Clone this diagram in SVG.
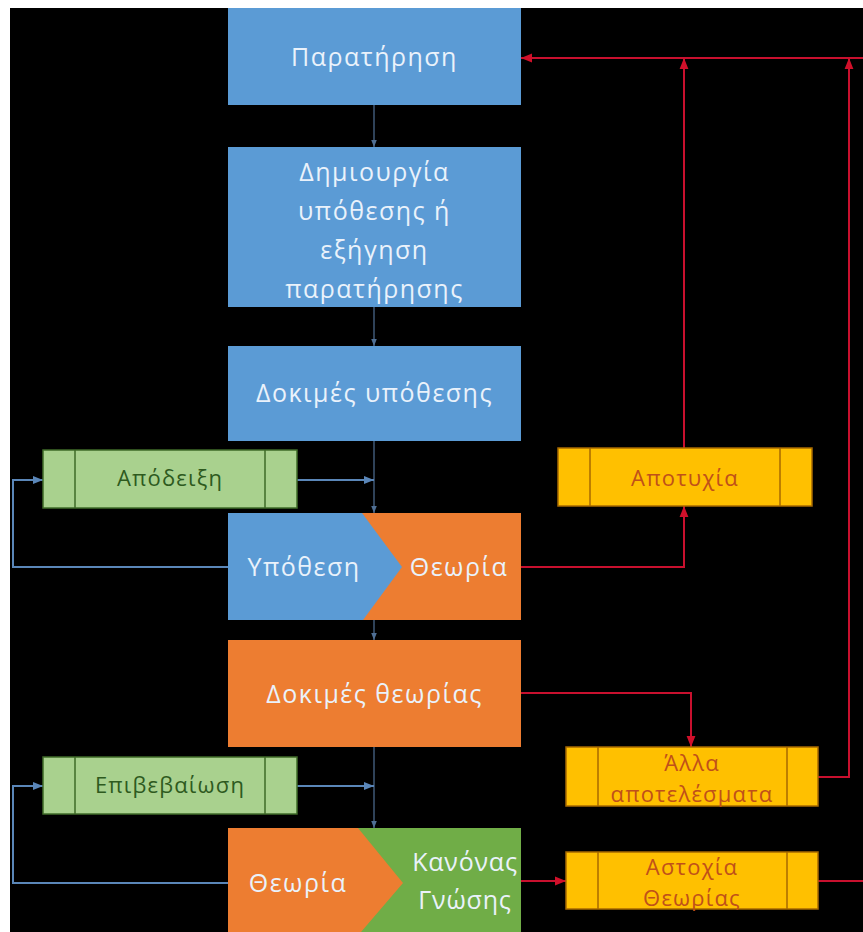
<svg xmlns="http://www.w3.org/2000/svg" width="863" height="932" viewBox="0 0 863 932">
  <style>
    .main { font-family: "Open Sans", "Noto Sans", sans-serif; font-size: 25px; fill: #eaf2fb; text-anchor: middle; letter-spacing: 1.5px; }
    .tight { letter-spacing: 0.8px; }
    .side { font-family: "Open Sans", "Noto Sans", sans-serif; font-size: 22px; text-anchor: middle; letter-spacing: 1.2px; }
    .green-t { fill: #2e5a1e; }
    .yellow-t { fill: #c0501a; }
    .blue { fill: #5b9bd5; }
    .orange { fill: #ed7d31; }
    .kgreen { fill: #70ad47; }
    .proc-g { fill: #a9d18e; stroke: #3f6b28; stroke-width: 1.5; }
    .proc-y { fill: #ffc000; stroke: #a86a00; stroke-width: 1.5; }
    .bline { fill: none; stroke: #5a86b8; stroke-width: 2; }
    .vline { fill: none; stroke: #4f6f94; stroke-width: 1.2; }
    .rline { fill: none; stroke: #c8102e; stroke-width: 2; }
  </style>
  <defs>
    <marker id="ab" markerUnits="userSpaceOnUse" markerWidth="10" markerHeight="10" viewBox="0 0 10 10" refX="10" refY="5" orient="auto">
      <path d="M0,1 L10,5 L0,9 z" fill="#5a86b8"/>
    </marker>
    <marker id="av" markerUnits="userSpaceOnUse" markerWidth="7" markerHeight="7" viewBox="0 0 10 10" refX="10" refY="5" orient="auto">
      <path d="M0,1 L10,5 L0,9 z" fill="#4f6f94"/>
    </marker>
    <marker id="ar" markerUnits="userSpaceOnUse" markerWidth="11" markerHeight="11" viewBox="0 0 10 10" refX="10" refY="5" orient="auto">
      <path d="M0,1 L10,5 L0,9 z" fill="#d0102a"/>
    </marker>
  </defs>

  <!-- page and canvas -->
  <rect x="0" y="0" width="863" height="932" fill="#ffffff"/>
  <rect x="10" y="8" width="853" height="924" fill="#000000"/>

  <!-- connectors -->
  <g id="connectors">
    <path class="vline" d="M374,105 V147" marker-end="url(#av)"/>
    <path class="vline" d="M374,307 V346" marker-end="url(#av)"/>
    <path class="vline" d="M374,441 V513" marker-end="url(#av)"/>
    <path class="vline" d="M374,620 V640" marker-end="url(#av)"/>
    <path class="vline" d="M374,747 V828" marker-end="url(#av)"/>
    <path class="bline" d="M297,480 H374" marker-end="url(#ab)"/>
    <path class="bline" d="M228,567 H13 V480 H43" marker-end="url(#ab)"/>
    <path class="bline" d="M297,786 H374" marker-end="url(#ab)"/>
    <path class="bline" d="M228,883 H13 V786 H43" marker-end="url(#ab)"/>
    <path class="rline" d="M521,567 H684 V506" marker-end="url(#ar)"/>
    <path class="rline" d="M684,448 V58" marker-end="url(#ar)"/>
    <path class="rline" d="M863,58 H521" marker-end="url(#ar)"/>
    <path class="rline" d="M521,693 H691 V747" marker-end="url(#ar)"/>
    <path class="rline" d="M818,777 H849 V58" marker-end="url(#ar)"/>
    <path class="rline" d="M521,881 H566" marker-end="url(#ar)"/>
    <path class="rline" d="M818,881 H863"/>
  </g>

  <!-- main flow -->
  <g id="observation">
    <rect class="blue" x="228" y="8" width="293" height="97"/>
    <text class="main" x="374.5" y="66">Παρατήρηση</text>
  </g>
  <g id="hypothesis-creation">
    <rect class="blue" x="228" y="147" width="293" height="160"/>
    <text class="main" x="374.5" y="181">Δημιουργία</text>
    <text class="main" x="374.5" y="220">υπόθεσης ή</text>
    <text class="main" x="374.5" y="259">εξήγηση</text>
    <text class="main" x="374.5" y="298">παρατήρησης</text>
  </g>
  <g id="hypothesis-tests">
    <rect class="blue" x="228" y="346" width="293" height="95"/>
    <text class="main" x="374.5" y="402">Δοκιμές υπόθεσης</text>
  </g>
  <g id="hypothesis-theory">
    <rect class="orange" x="228" y="513" width="293" height="107"/>
    <path class="blue" d="M228,513 H362 L402,567 L363,620 H228 z"/>
    <text class="main" x="304" y="576">Υπόθεση</text>
    <text class="main" x="459" y="576">Θεωρία</text>
  </g>
  <g id="theory-tests">
    <rect class="orange" x="228" y="640" width="293" height="107"/>
    <text class="main" x="374.5" y="703">Δοκιμές θεωρίας</text>
  </g>
  <g id="theory-rule">
    <rect class="kgreen" x="228" y="828" width="293" height="104"/>
    <path class="orange" d="M228,828 H358 L403,883 L361,932 H228 z"/>
    <text class="main" x="298" y="892">Θεωρία</text>
    <text class="main tight" x="465" y="871">Κανόνας</text>
    <text class="main tight" x="465" y="909">Γνώσης</text>
  </g>

  <!-- side processes -->
  <g id="proof">
    <rect class="proc-g" x="43" y="450" width="254" height="58"/>
    <path d="M75,450 V508 M265,450 V508" stroke="#3f6b28" stroke-width="1.5"/>
    <text class="side green-t" x="170" y="486">Απόδειξη</text>
  </g>
  <g id="confirmation">
    <rect class="proc-g" x="43" y="757" width="254" height="57"/>
    <path d="M75,757 V814 M265,757 V814" stroke="#3f6b28" stroke-width="1.5"/>
    <text class="side green-t" x="170" y="793">Επιβεβαίωση</text>
  </g>
  <g id="failure">
    <rect class="proc-y" x="558" y="448" width="254" height="58"/>
    <path d="M590,448 V506 M780,448 V506" stroke="#a86a00" stroke-width="1.5"/>
    <text class="side yellow-t" x="685" y="486">Αποτυχία</text>
  </g>
  <g id="other-results">
    <rect class="proc-y" x="566" y="747" width="252" height="59"/>
    <path d="M598,747 V806 M787,747 V806" stroke="#a86a00" stroke-width="1.5"/>
    <text class="side yellow-t" x="692" y="771">Άλλα</text>
    <text class="side yellow-t" x="692" y="802">αποτελέσματα</text>
  </g>
  <g id="theory-miss">
    <rect class="proc-y" x="566" y="852" width="252" height="57"/>
    <path d="M598,852 V909 M787,852 V909" stroke="#a86a00" stroke-width="1.5"/>
    <text class="side yellow-t" x="692" y="875">Αστοχία</text>
    <text class="side yellow-t" x="692" y="906">Θεωρίας</text>
  </g>
</svg>
